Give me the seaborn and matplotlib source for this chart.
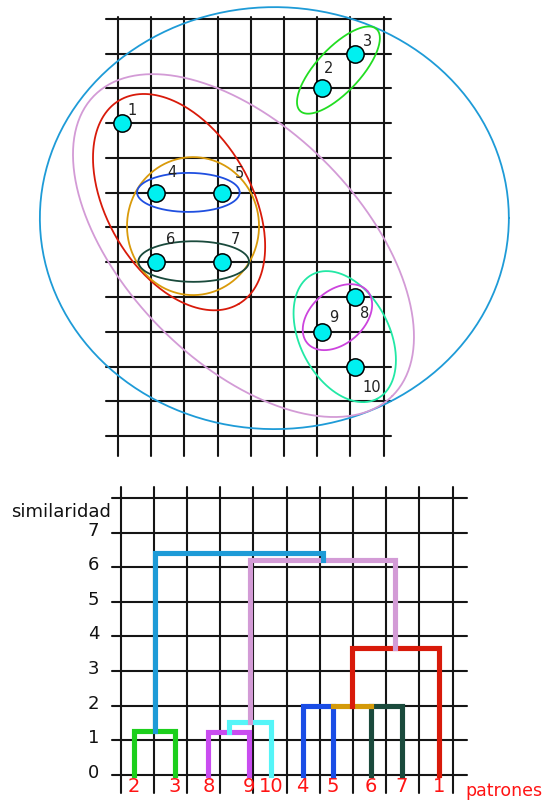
import numpy as np
import pandas as pd
import matplotlib
matplotlib.use("Agg")
import matplotlib.pyplot as plt
import seaborn as sns

# patrones en la cuadricula (columna, fila)
point_ids = ['1', '2', '3', '4', '5', '6', '7', '8', '9', '10']
point_col = [0, 6, 7, 1, 3, 1, 3, 7, 6, 7]
point_row = [9, 10, 11, 7, 7, 5, 5, 4, 3, 2]

# contornos de los grupos: centro (col, fila), semiejes (px), angulo, color
ell_cx = [4.58, 6.51, 1.71, 3.65, 2.13, 1.99, 2.15, 6.70, 6.48]
ell_cy = [6.27, 10.53, 6.73, 5.48, 6.04, 7.01, 5.02, 2.86, 3.42]
ell_a = [234.5, 56, 118, 211.6, 66, 51.3, 55.3, 70.1, 39.8]
ell_b = [211, 22, 72, 117, 69, 19.5, 20.3, 44.7, 26.6]
ell_ang = [0, 47, -59.7, -45.3, 0, 0, 0, -62.5, 41.2]
ell_color = ['#1e9bd7', '#22dd22', '#d81a0a', '#d39bd6', '#d99a0a',
             '#1f4fe0', '#1a4a3c', '#22e8a5', '#cc44dd']

# dendrograma
leaves = ['2', '3', '8', '9', '10', '4', '5', '6', '7', '1']
leaf_pos = [0.40, 1.64, 2.64, 3.87, 4.52, 5.48, 6.40, 7.53, 8.47, 9.58]
merge_left = ['2', '8', 'c1', '4', '6', 'c3', 'c5', 'c2', 'c0']
merge_right = ['3', '9', '10', '5', '7', 'c4', '1', 'c6', 'c7']
merge_height = [1.28, 1.23, 1.54, 2.0, 2.0, 2.0, 3.67, 6.21, 6.40]
merge_color = ['#1ccf1c', '#c94cf0', '#55f5f8', '#1a4de6', '#1a4a3c',
               '#d49a0a', '#d81a0a', '#d39bd6', '#1e9bd7']
sim_ticks = [0, 1, 2, 3, 4, 5, 6, 7]

sns.set_theme(style="white")
plt.rcParams['font.family'] = ['DejaVu Sans']

fig = plt.figure(figsize=(5.44, 8.01), dpi=100)

# ---- panel superior ----
SX, SY = 33.2, 34.75
ax = fig.add_axes([0, 341 / 801, 1, 460 / 801])
for k in range(9):
    ax.plot([k - 0.13, k - 0.13], [-0.58, 12.06], color='#151515', lw=1.5, zorder=1)
for k in range(13):
    ax.plot([-0.5, 8.1], [k, k], color='#151515', lw=1.5, zorder=1)

t = np.linspace(0, 2 * np.pi, 300)
for cx, cy, a, b, ang, c in zip(ell_cx, ell_cy, ell_a, ell_b, ell_ang, ell_color):
    th = np.radians(ang)
    dx = a * np.cos(t) * np.cos(th) - b * np.sin(t) * np.sin(th)
    dy = a * np.cos(t) * np.sin(th) + b * np.sin(t) * np.cos(th)
    ax.plot(cx + dx / SX, cy + dy / SY, color=c, lw=1.3, zorder=2)

pts = pd.DataFrame({'id': point_ids, 'col': point_col, 'row': point_row})
sns.scatterplot(data=pts, x='col', y='row', s=155, color='#00f0f0',
                edgecolor='black', linewidth=1.1, ax=ax, zorder=5)

lab_off = {'1': (10, 13), '2': (7, 20), '3': (13, 12), '4': (16, 20), '5': (18, 19),
           '6': (15, 23), '7': (14, 23), '8': (10, -16), '9': (12, 14), '10': (17, -21)}
for _, r in pts.iterrows():
    ax.annotate(r['id'], (r['col'], r['row']), xytext=lab_off[r['id']],
                textcoords='offset pixels', ha='center', va='center',
                fontsize=10.5, color='#222222', zorder=6)

ax.set_xlim(-122.3 / SX, (544 - 122.3) / SX)
ax.set_ylim((436 - 460) / SY, 436 / SY)
ax.axis('off')

# ---- dendrograma ----
bx = fig.add_axes([0, 0, 1, 341 / 801])
for k in range(11):
    bx.plot([k, k], [-0.52, 8.33], color='#151515', lw=1.5, zorder=1)
for k in range(9):
    bx.plot([-0.25, 10.42], [k, k], color='#151515', lw=1.5, zorder=1)

anchor = {lf: p for lf, p in zip(leaves, leaf_pos)}
height = {lf: 0.0 for lf in leaves}
span = {lf: (p, p) for lf, p in zip(leaves, leaf_pos)}
for i, (l, r, h, c) in enumerate(zip(merge_left, merge_right, merge_height, merge_color)):
    xl = span[l][1] if height[l] == h else anchor[l]
    xr = span[r][0] if height[r] == h else anchor[r]
    bx.plot([xl, xl, xr, xr], [height[l], h, h, height[r]], color=c, lw=3.7,
            solid_capstyle='projecting', solid_joinstyle='miter', zorder=3 + i * 0.1)
    cid = 'c%d' % i
    anchor[cid] = (xl + xr) / 2
    height[cid] = h
    span[cid] = (xl, xr)

for lf, p in zip(leaves, leaf_pos):
    bx.text(p, -0.34, lf, ha='center', va='center', fontsize=14, color='#ff1414')
for s in sim_ticks:
    bx.text(-0.65, s + 0.06, str(s), ha='right', va='center', fontsize=13, color='#111111')
bx.text(-0.29, 7.46, 'similaridad', ha='right', va='baseline', fontsize=13, color='#111111')
bx.text(10.37, -0.606, 'patrones', ha='left', va='baseline', fontsize=12.5, color='#ff1414')

bx.set_xlim(-120.7 / 33.2, (544 - 120.7) / 33.2)
bx.set_ylim((775 - 801) / 34.63, (775 - 460) / 34.63)
bx.axis('off')

fig.savefig('out.png', dpi=100)
